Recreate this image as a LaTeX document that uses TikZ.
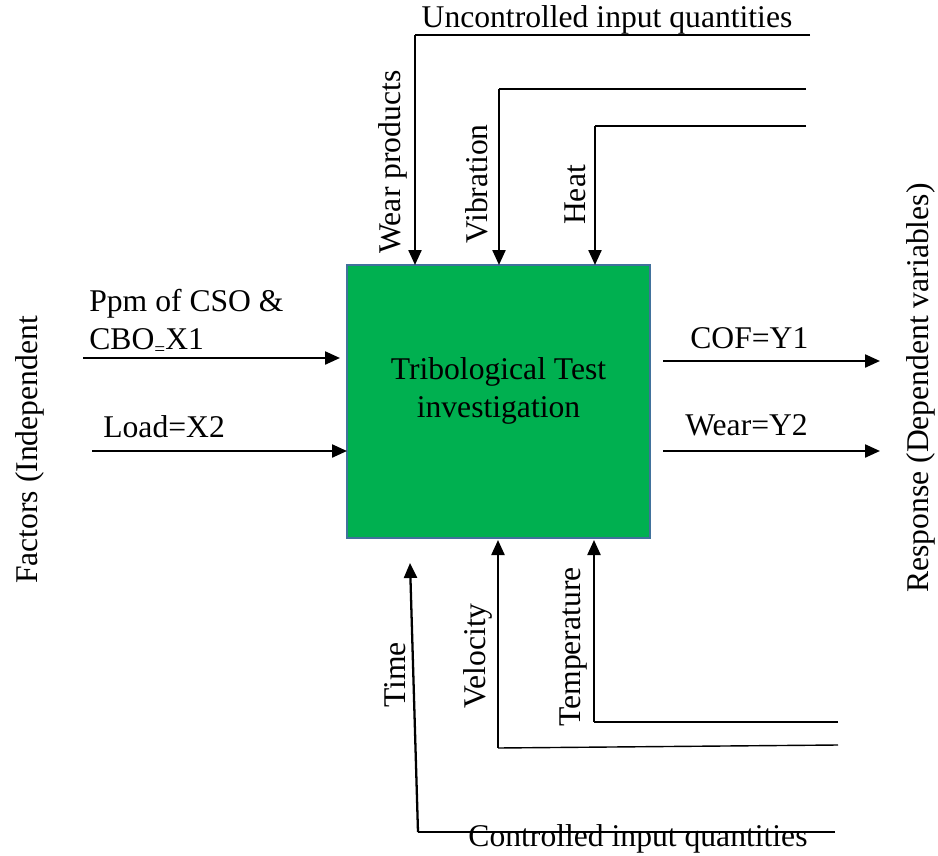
\documentclass[tikz,border=0pt]{standalone}
\usepackage{fontspec}
\setmainfont{Liberation Serif}
\usetikzlibrary{arrows.meta}

\definecolor{testgreen}{RGB}{0,176,80}
\definecolor{testblue}{RGB}{65,113,156}

\tikzset{
    testbox/.style={draw=testblue, line width=0.8pt, fill=testgreen, minimum width=6.06cm, minimum height=5.46cm},
    lbl/.style={font=\fontsize{18}{22}\selectfont, inner sep=0pt, align=left},
    vlbl/.style={lbl, rotate=90},
    arr/.style={line width=1.3pt, -{Triangle[length=0.3cm, width=0.26cm]}},
    feed/.style={line width=0.8pt}
}

\begin{document}
\begin{tikzpicture}[x=0.02cm, y=-0.02cm]
    \useasboundingbox (0,0) rectangle (938,856);

    % Process block
    \node[testbox] (test) at (498.5,401.5) {};
    \node[lbl, align=center] (testtxt) at (498.5,391) {Tribological Test\\investigation};

    % Uncontrolled inputs (top)
    \coordinate (wearS) at (810,35);  \coordinate (wearC) at (415,35);  \coordinate (wearIn) at (415,265);
    \coordinate (vibS) at (806,89);   \coordinate (vibC) at (499,89);   \coordinate (vibIn) at (499,265);
    \coordinate (heatS) at (806,126); \coordinate (heatC) at (595,126); \coordinate (heatIn) at (595,265);
    \draw[feed] (wearS) -- (wearC);
    \draw[arr] (wearC) -- (wearIn);
    \draw[feed] (vibS) -- (vibC);
    \draw[arr] (vibC) -- (vibIn);
    \draw[feed] (heatS) -- (heatC);
    \draw[arr] (heatC) -- (heatIn);
    \node[lbl] (unc) at (607,20) {Uncontrolled input quantities};
    \node[vlbl] (wearL) at (393,162) {Wear products};
    \node[vlbl] (vibL) at (477,184) {Vibration};
    \node[vlbl] (heatL) at (575,195) {Heat};

    % Factors (left)
    \coordinate (x1S) at (83,358);  \coordinate (x1E) at (340,358);
    \coordinate (x2S) at (92,451);  \coordinate (x2E) at (347,451);
    \draw[arr] (x1S) -- (x1E);
    \draw[arr] (x2S) -- (x2E);
    \node[lbl, anchor=west] (x1L) at (89,322) {Ppm of CSO \&\\CBO\raisebox{-0.35ex}{\fontsize{11}{11}\selectfont=}X1};
    \node[lbl, anchor=west] (x2L) at (103,427) {Load=X2};
    \node[vlbl] (fact) at (30,450) {Factors (Independent};

    % Responses (right)
    \coordinate (y1S) at (663,361); \coordinate (y1E) at (880,361);
    \coordinate (y2S) at (663,451); \coordinate (y2E) at (880,451);
    \draw[arr] (y1S) -- (y1E);
    \draw[arr] (y2S) -- (y2E);
    \node[lbl, anchor=west] (y1L) at (690,338) {COF=Y1};
    \node[lbl, anchor=west] (y2L) at (685,425) {Wear=Y2};
    \node[vlbl] (resp) at (921,388) {Response (Dependent variables)};

    % Controlled inputs (bottom)
    \coordinate (timeS) at (835,832); \coordinate (timeC) at (418,832); \coordinate (timeIn) at (410,563);
    \coordinate (velS) at (838,745);  \coordinate (velC) at (498,748);  \coordinate (velIn) at (498,540);
    \coordinate (tempS) at (838,722); \coordinate (tempC) at (594,722); \coordinate (tempIn) at (594,540);
    \draw[feed] (timeS) -- (timeC);
    \draw[arr] (timeC) -- (timeIn);
    \draw[feed] (velS) -- (velC);
    \draw[arr] (velC) -- (velIn);
    \draw[feed] (tempS) -- (tempC);
    \draw[arr] (tempC) -- (tempIn);
    \node[lbl] (con) at (638,839) {Controlled input quantities};
    \node[vlbl] (timeL) at (395,675) {Time};
    \node[vlbl] (velL) at (478,656) {Velocity};
    \node[vlbl] (tempL) at (574,647) {Temperature};
\end{tikzpicture}
\end{document}
